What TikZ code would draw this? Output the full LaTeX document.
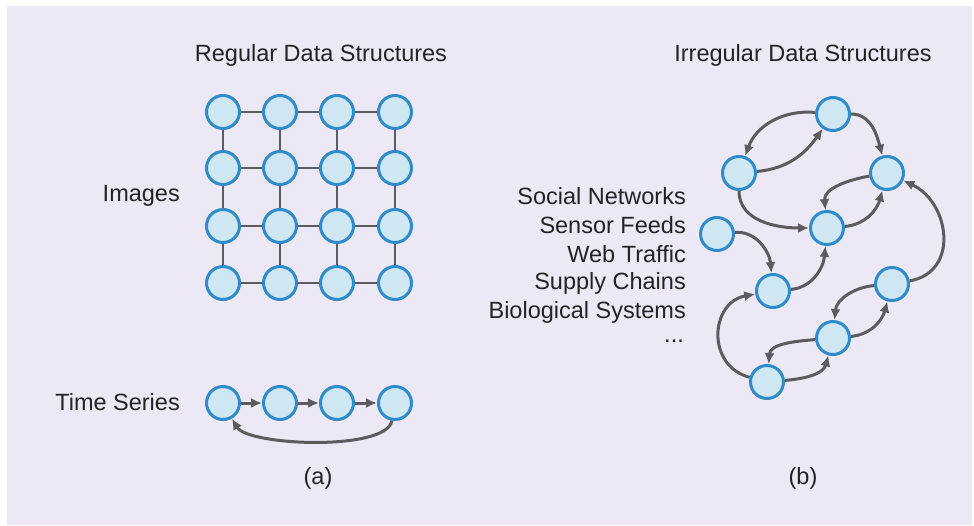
\documentclass[tikz,border=0pt]{standalone}
\usepackage{fontspec}
\setmainfont{Liberation Sans}
\usetikzlibrary{arrows.meta}
\definecolor{bgc}{HTML}{ECE8F5}
\definecolor{nodefill}{HTML}{CFE7F3}
\definecolor{nodeline}{HTML}{2F8BCA}
\definecolor{edgec}{HTML}{5C5C5E}
\definecolor{txtc}{HTML}{232323}
\tikzset{
  vtx/.style={circle,draw=nodeline,fill=nodefill,line width=3pt,minimum size=33pt,inner sep=0pt},
  gridedge/.style={draw=edgec,line width=2.8pt},
  arr/.style={draw=edgec,line width=3pt,-{Latex[length=11pt,width=10pt]}},
  lbl/.style={text=txtc,font=\fontsize{23.5}{28}\selectfont,inner sep=0pt},
}
\begin{document}
\begin{tikzpicture}[x=1pt,y=-1pt]
\useasboundingbox (0,0) rectangle (974,525);
\fill[bgc] (7,6) rectangle (972,525);

% titles
\node[lbl] (t1) at (321,55) {Regular Data Structures};
\node[lbl] (t2) at (803,55) {Irregular Data Structures};
\node[lbl,anchor=east] (limg) at (180,196) {Images};
\node[lbl,anchor=east] (lts) at (180,402) {Time Series};
\node[lbl] (la) at (318,478) {(a)};
\node[lbl] (lb) at (803,478) {(b)};

% list
\node[lbl,anchor=east] (s1) at (686,196) {Social Networks};
\node[lbl,anchor=east] (s2) at (686,225) {Sensor Feeds};
\node[lbl,anchor=east] (s3) at (686,254) {Web Traffic};
\node[lbl,anchor=east] (s4) at (686,283) {Supply Chains};
\node[lbl,anchor=east] (s5) at (686,312) {Biological Systems};
\node[lbl,anchor=east] (s6) at (684,341) {...};

% grid
\foreach \i/\x in {1/223,2/280,3/337,4/395}{
  \foreach \j/\y in {1/112,2/168,3/226,4/283}{
    \node[vtx] (g\i\j) at (\x,\y) {};
  }
}
\foreach \j in {1,2,3,4}{
  \draw[gridedge] (g1\j) -- (g2\j);
  \draw[gridedge] (g2\j) -- (g3\j);
  \draw[gridedge] (g3\j) -- (g4\j);
}
\foreach \i in {1,2,3,4}{
  \draw[gridedge] (g\i1) -- (g\i2);
  \draw[gridedge] (g\i2) -- (g\i3);
  \draw[gridedge] (g\i3) -- (g\i4);
}

% time series
\node[vtx] (T1) at (223,403) {};
\node[vtx] (T2) at (280,403) {};
\node[vtx] (T3) at (337,403) {};
\node[vtx] (T4) at (395,403) {};
\draw[arr] (T1) -- (T2);
\draw[arr] (T2) -- (T3);
\draw[arr] (T3) -- (T4);
\draw[arr] (T4) to[out=-100,in=-60,looseness=0.5] (T1);

% irregular graph
\node[vtx] (A) at (833,114) {};
\node[vtx] (B) at (739,173) {};
\node[vtx] (C) at (887,173) {};
\node[vtx] (D) at (827,228) {};
\node[vtx] (E) at (717,234) {};
\node[vtx] (F) at (773,291) {};
\node[vtx] (G) at (892,284) {};
\node[vtx] (H) at (833,338) {};
\node[vtx] (I) at (767,382) {};

\draw[arr] (A) to[out=175,in=70] (B);
\draw[arr] (B) to[out=5,in=235] (A);
\draw[arr] (A) to[out=0,in=105] (C);
\draw[arr] (C) to[out=190,in=95] (D);
\draw[arr] (D) to[out=5,in=255] (C);
\draw[arr] (B) to[out=270,in=180] (D);
\draw[arr] (E) to[out=5,in=95] (F);
\draw[arr] (F) to[out=5,in=265] (D);
\draw[arr] (G) to[out=10,in=-25,looseness=1.3] (C);
\draw[arr] (G) to[out=185,in=85] (H);
\draw[arr] (H) to[out=5,in=255] (G);
\draw[arr] (H) to[out=185,in=85] (I);
\draw[arr] (I) to[out=5,in=255] (H);
\draw[arr] (I) to[out=165,in=190,looseness=1.4] (F);
\end{tikzpicture}
\end{document}
